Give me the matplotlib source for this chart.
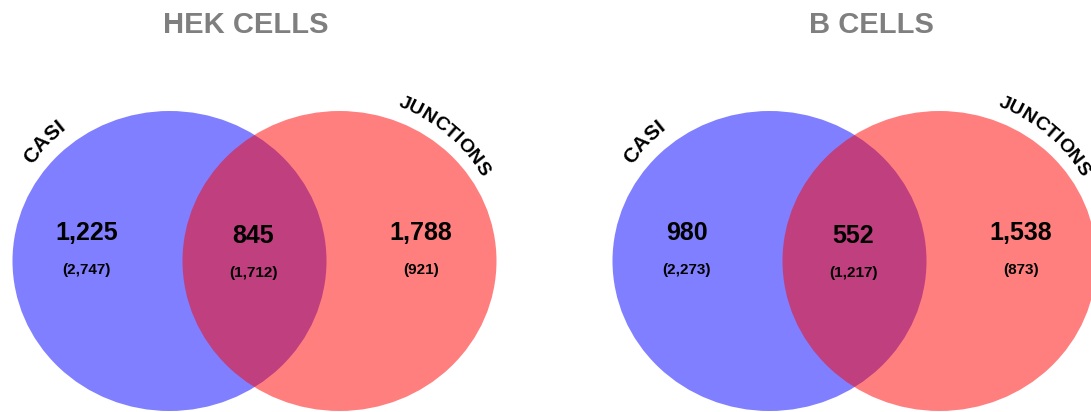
import numpy as np
import matplotlib
matplotlib.use("Agg")
import matplotlib.pyplot as plt
from matplotlib.patches import Ellipse
from matplotlib.font_manager import FontProperties
from matplotlib.textpath import text_to_path

# data
titles = ["HEK CELLS", "B CELLS"]
set_names = ["CASI", "JUNCTIONS"]
only_casi = [1225, 980]
both = [845, 552]
only_junc = [1788, 1538]
only_casi_sub = [2747, 2273]
both_sub = [1712, 1217]
only_junc_sub = [921, 873]

W, H = 1091, 412
fig = plt.figure(figsize=(W / 100, H / 100), dpi=100)
ax = fig.add_axes([0, 0, 1, 1])
ax.set_xlim(0, W)
ax.set_ylim(0, H)
ax.set_aspect("equal")
ax.axis("off")

font = "Liberation Sans"
fp = FontProperties(family=font, weight="bold", size=13)


def py(y):
    # pixel row (from top) -> axes y
    return H - y


def arc_text(text, cx, cy, r, theta_c, size):
    # lay characters along a circle arc, reading clockwise
    prop = fp.copy()
    prop.set_size(size)
    widths = []
    for ch in text:
        w, _, _ = text_to_path.get_text_width_height_descent(ch, prop, ismath=False)
        widths.append(w * 100 / 72)
    total = sum(widths)
    s = 0
    for ch, w in zip(text, widths):
        mid = s + w / 2
        th = np.radians(theta_c) + (total / 2 - mid) / r
        x = cx + r * np.cos(th)
        y = cy + r * np.sin(th)
        ax.text(x, y, ch, fontproperties=prop, rotation=np.degrees(th) - 90,
                rotation_mode="anchor", ha="center", va="baseline", color="black")
        s += w


def venn(offset, i):
    cy = py(261)
    cb = (169.5 + offset, cy)
    cr = (339.5 + offset, cy)
    ax.add_patch(Ellipse(cb, 314, 300, facecolor="blue", alpha=0.5, edgecolor="none"))
    ax.add_patch(Ellipse(cr, 314, 300, facecolor="red", alpha=0.5, edgecolor="none"))

    ax.text(246 + offset * 1.043, py(33), titles[i], fontsize=21, fontweight="bold",
            color="#7f7f7f", family=font, ha="center", va="baseline")

    xs = [86.5 + offset, 253 + offset, 421 + offset]
    big = [only_casi[i], both[i], only_junc[i]]
    small = [only_casi_sub[i], both_sub[i], only_junc_sub[i]]
    for j, (x, b, s) in enumerate(zip(xs, big, small)):
        dy = 3 if j == 1 else 0
        ax.text(x, py(240 + dy), f"{b:,}", fontsize=18, fontweight="bold",
                family=font, ha="center", va="baseline")
        ax.text(x, py(274 + dy), f"({s:,})", fontsize=11, fontweight="bold",
                family=font, ha="center", va="baseline")

    arc_text(set_names[0], cb[0], cb[1], 168, 136.5, 15)
    arc_text(set_names[1], cr[0], cr[1], 165, 50, 14)


venn(0, 0)
venn(600, 1)

fig.savefig("out.png", dpi=100)
